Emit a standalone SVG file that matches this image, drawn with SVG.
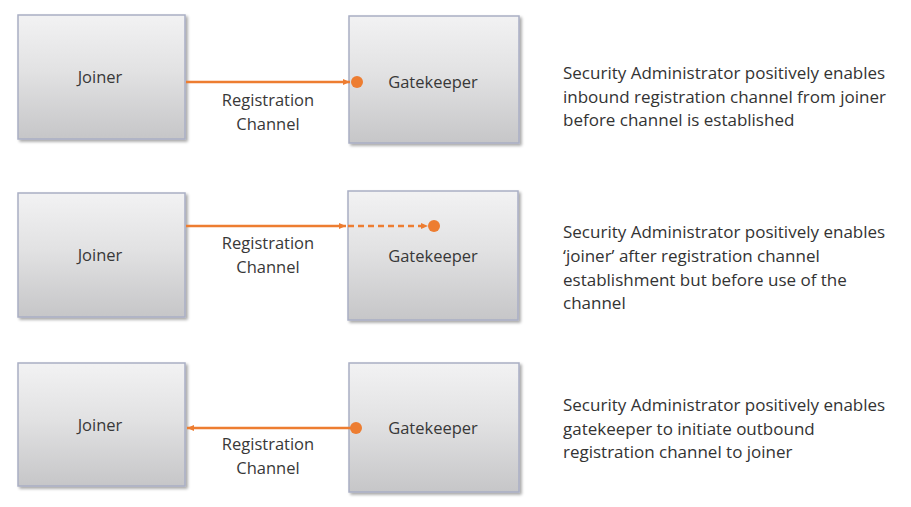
<svg xmlns="http://www.w3.org/2000/svg" width="911" height="507" viewBox="0 0 911 507">
<defs>
<linearGradient id="boxg" x1="0" y1="0" x2="0" y2="1">
<stop offset="0" stop-color="#f2f2f3"/>
<stop offset="0.45" stop-color="#e2e2e3"/>
<stop offset="1" stop-color="#c6c6c8"/>
</linearGradient>
<filter id="sh" x="-10%" y="-10%" width="125%" height="125%">
<feGaussianBlur in="SourceAlpha" stdDeviation="1.5"/>
<feOffset dx="2" dy="2"/>
<feComponentTransfer><feFuncA type="linear" slope="0.35"/></feComponentTransfer>
<feMerge><feMergeNode/><feMergeNode in="SourceGraphic"/></feMerge>
</filter>
<marker id="arr" markerWidth="8" markerHeight="8" refX="7" refY="4" orient="auto" markerUnits="userSpaceOnUse">
<path d="M0,1 L7,4 L0,7 Z" fill="#ed7d31"/>
</marker>
</defs>
<style>
.box{fill:url(#boxg);stroke:#a9aec4;stroke-width:1.5;filter:url(#sh)}
.lbl{font-family:"Open Sans","Liberation Sans",sans-serif;font-size:16.5px;fill:#383838;text-anchor:middle}
.desc{font-family:"Open Sans","Liberation Sans",sans-serif;font-size:17px;fill:#333}
.ln{stroke:#ed7d31;stroke-width:2.5;fill:none}
.dot{fill:#ed7d31}
</style>
<rect width="911" height="507" fill="#ffffff"/>

<g id="joiner1"><rect class="box" x="18" y="15" width="167" height="124"/><text class="lbl" x="100" y="83">Joiner</text></g>
<g id="gatekeeper1"><rect class="box" x="349" y="16" width="170" height="127"/><text class="lbl" x="433" y="88">Gatekeeper</text></g>
<g id="joiner2"><rect class="box" x="18" y="193" width="167" height="124"/><text class="lbl" x="100" y="261">Joiner</text></g>
<g id="gatekeeper2"><rect class="box" x="348" y="191" width="170" height="129"/><text class="lbl" x="433" y="262">Gatekeeper</text></g>
<g id="joiner3"><rect class="box" x="18" y="363" width="167" height="123"/><text class="lbl" x="100" y="431">Joiner</text></g>
<g id="gatekeeper3"><rect class="box" x="349" y="363" width="170" height="129"/><text class="lbl" x="433" y="434">Gatekeeper</text></g>

<g id="connectors">
<line class="ln" x1="186" y1="82" x2="350" y2="82" marker-end="url(#arr)"/>
<circle class="dot" cx="357" cy="82" r="6"/>
<line class="ln" x1="186" y1="226" x2="346" y2="226" marker-end="url(#arr)"/>
<line class="ln" x1="348" y1="226" x2="428" y2="226" stroke-dasharray="6,4" marker-end="url(#arr)"/>
<circle class="dot" cx="434" cy="226" r="6"/>
<line class="ln" x1="356" y1="428" x2="187" y2="428" marker-end="url(#arr)"/>
<circle class="dot" cx="356" cy="428" r="6"/>
</g>

<g id="labels">
<text class="lbl" x="268" y="106">Registration</text>
<text class="lbl" x="268" y="130">Channel</text>
<text class="lbl" x="268" y="249">Registration</text>
<text class="lbl" x="268" y="273">Channel</text>
<text class="lbl" x="268" y="450">Registration</text>
<text class="lbl" x="268" y="474">Channel</text>
</g>

<g id="descriptions">
<text class="desc" x="563" y="79">Security Administrator positively enables</text>
<text class="desc" x="563" y="103">inbound registration channel from joiner</text>
<text class="desc" x="563" y="126">before channel is established</text>
<text class="desc" x="563" y="238">Security Administrator positively enables</text>
<text class="desc" x="563" y="262">‘joiner’ after registration channel</text>
<text class="desc" x="563" y="286">establishment but before use of the</text>
<text class="desc" x="563" y="309">channel</text>
<text class="desc" x="563" y="411">Security Administrator positively enables</text>
<text class="desc" x="563" y="435">gatekeeper to initiate outbound</text>
<text class="desc" x="563" y="458">registration channel to joiner</text>
</g>
</svg>
